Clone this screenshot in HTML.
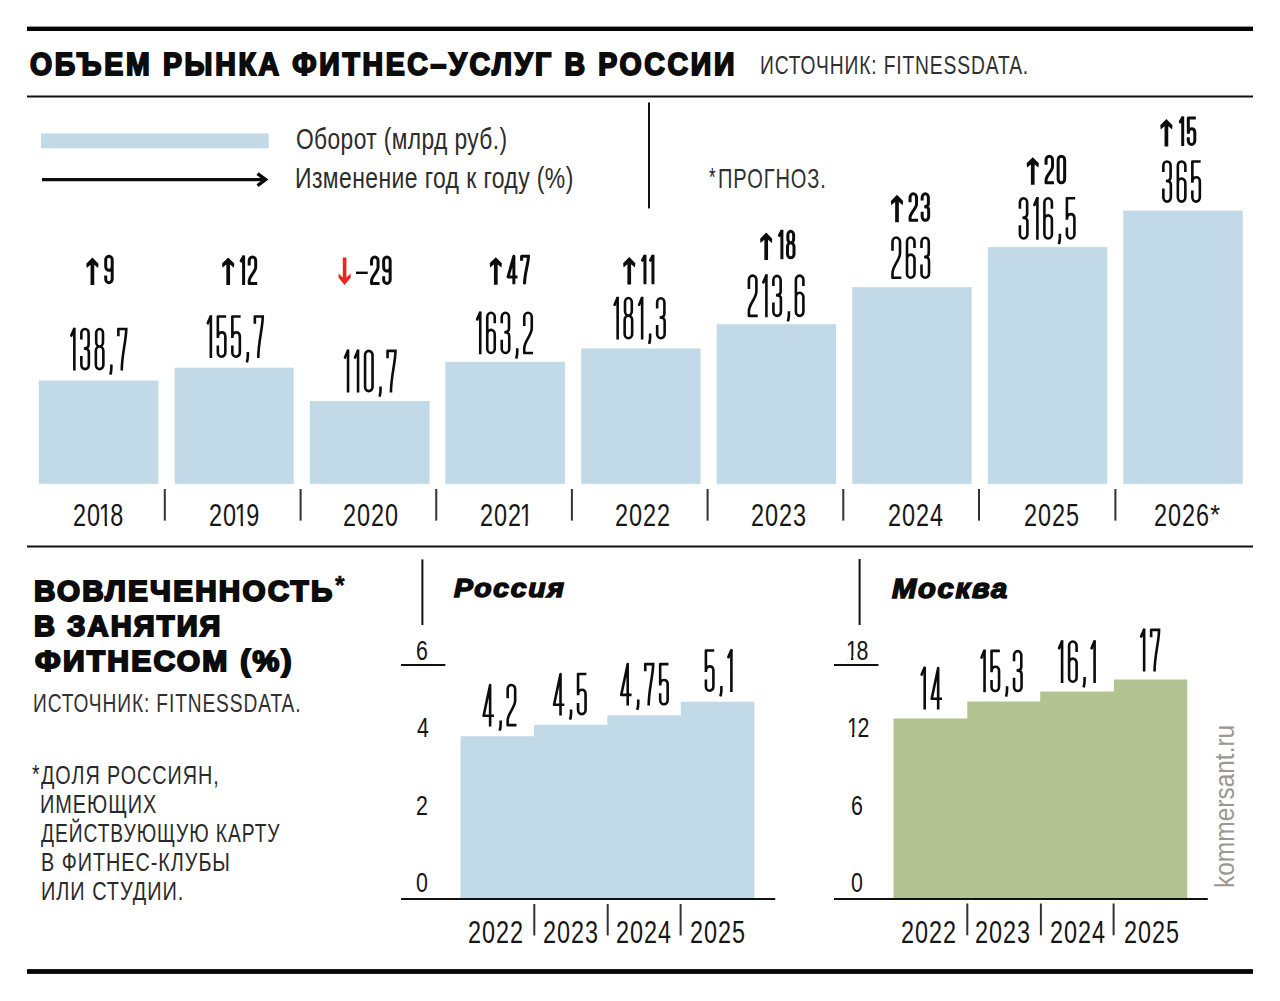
<!DOCTYPE html>
<html><head><meta charset="utf-8"><title>Объем рынка фитнес-услуг в России</title>
<style>
html,body{margin:0;padding:0;background:#fff;}
body{width:1280px;height:1001px;position:relative;overflow:hidden;}
svg{position:absolute;left:0;top:0;}
.t{position:absolute;white-space:nowrap;line-height:1;transform-origin:0 0;}
</style></head><body>
<svg width="1280" height="1001" viewBox="0 0 1280 1001">
<rect x="27" y="26.6" width="1226" height="4.4" fill="#050505"/>
<rect x="27" y="95.5" width="1226" height="2.0" fill="#111"/>
<rect x="27" y="545.5" width="1226" height="2.0" fill="#111"/>
<rect x="27" y="969.1" width="1226" height="4.8" fill="#050505"/>
<rect x="41" y="133.4" width="227.7" height="14.9" fill="#c2d9e8"/>
<line x1="42" y1="179.6" x2="265" y2="179.6" stroke="#0c0c0c" stroke-width="3.4"/>
<polyline points="257.5,173.6 265.6,179.6 257.5,185.6" fill="none" stroke="#0c0c0c" stroke-width="3.4" stroke-linejoin="miter"/>
<rect x="648" y="102.5" width="2" height="105.9" fill="#111"/>
<rect x="38.75" y="380.6" width="119.55" height="103.2" fill="#c2d9e8"/>
<rect x="174.7" y="367.7" width="119.0" height="116.1" fill="#c2d9e8"/>
<rect x="309.8" y="401" width="119.8" height="82.8" fill="#c2d9e8"/>
<rect x="445.3" y="361.8" width="119.8" height="122.0" fill="#c2d9e8"/>
<rect x="581.2" y="348.5" width="119.4" height="135.3" fill="#c2d9e8"/>
<rect x="716.6" y="324.2" width="119.4" height="159.6" fill="#c2d9e8"/>
<rect x="852.2" y="287.2" width="119.4" height="196.6" fill="#c2d9e8"/>
<rect x="987.8" y="247.1" width="119.5" height="236.7" fill="#c2d9e8"/>
<rect x="1123.3" y="210.6" width="119.5" height="273.2" fill="#c2d9e8"/>
<rect x="163.8" y="489" width="2.0" height="31.6" fill="#333"/>
<rect x="299.6" y="489" width="2.0" height="31.6" fill="#333"/>
<rect x="435.25" y="489" width="2.0" height="31.6" fill="#333"/>
<rect x="570.9" y="489" width="2.0" height="31.6" fill="#333"/>
<rect x="706.6" y="489" width="2.0" height="31.6" fill="#333"/>
<rect x="842.3" y="489" width="2.0" height="31.6" fill="#333"/>
<rect x="978.0" y="489" width="2.0" height="31.6" fill="#333"/>
<rect x="1114.4" y="489" width="2.0" height="31.6" fill="#333"/>
<polygon points="92.40,257.60 98.50,263.70 98.10,268.00 94.25,264.80 94.25,285.10 90.55,285.10 90.55,264.80 86.70,268.00 86.30,263.70" fill="#0c0c0c"/>
<polygon points="228.20,257.40 234.30,263.50 233.90,267.80 230.05,264.60 230.05,284.90 226.35,284.90 226.35,264.60 222.50,267.80 222.10,263.50" fill="#0c0c0c"/>
<polygon points="495.80,257.20 501.90,263.30 501.50,267.60 497.65,264.40 497.65,284.70 493.95,284.70 493.95,264.40 490.10,267.60 489.70,263.30" fill="#0c0c0c"/>
<polygon points="629.25,257.10 635.35,263.20 634.95,267.50 631.10,264.30 631.10,284.60 627.40,284.60 627.40,264.30 623.55,267.50 623.15,263.20" fill="#0c0c0c"/>
<polygon points="766.20,232.60 772.30,238.70 771.90,243.00 768.05,239.80 768.05,260.10 764.35,260.10 764.35,239.80 760.50,243.00 760.10,238.70" fill="#0c0c0c"/>
<polygon points="897.00,194.80 903.10,200.90 902.70,205.20 898.85,202.00 898.85,222.30 895.15,222.30 895.15,202.00 891.30,205.20 890.90,200.90" fill="#0c0c0c"/>
<polygon points="1032.75,157.20 1038.85,163.30 1038.45,167.60 1034.60,164.40 1034.60,184.70 1030.90,184.70 1030.90,164.40 1027.05,167.60 1026.65,163.30" fill="#0c0c0c"/>
<polygon points="1166.40,119.10 1172.50,125.20 1172.10,129.50 1168.25,126.30 1168.25,146.60 1164.55,146.60 1164.55,126.30 1160.70,129.50 1160.30,125.20" fill="#0c0c0c"/>
<polygon points="342.80,257.40 346.40,257.40 346.40,277.40 350.60,273.60 350.60,277.80 344.60,285.00 338.60,277.80 338.60,273.60 342.80,277.40" fill="#ee2320"/>
<rect x="356" y="271.6" width="11.7" height="2.4" fill="#0c0c0c"/>
<rect x="421.4" y="559.4" width="2.0" height="65.6" fill="#111"/>
<rect x="401" y="664" width="44.3" height="2" fill="#111"/>
<polygon points="460.50,898.50 460.50,736.20 533.90,736.20 533.90,724.80 607.30,724.80 607.30,715.30 680.80,715.30 680.80,701.70 754.30,701.70 754.30,898.50" fill="#c2d9e8"/>
<rect x="401" y="898" width="374.2" height="2" fill="#111"/>
<rect x="533.3" y="904" width="2.0" height="31.5" fill="#333"/>
<rect x="606.7" y="904" width="2.0" height="31.5" fill="#333"/>
<rect x="679.6" y="904" width="2.0" height="31.5" fill="#333"/>
<rect x="858.6" y="559" width="2.0" height="66" fill="#111"/>
<rect x="834" y="664" width="44.5" height="2" fill="#111"/>
<polygon points="893.50,898.50 893.50,718.40 967.30,718.40 967.30,701.60 1040.20,701.60 1040.20,691.40 1113.90,691.40 1113.90,679.60 1187.20,679.60 1187.20,898.50" fill="#b4c392"/>
<rect x="834" y="898" width="373.8" height="2" fill="#111"/>
<rect x="966.3" y="903.5" width="2.0" height="31.8" fill="#333"/>
<rect x="1039.9" y="903.5" width="2.0" height="31.8" fill="#333"/>
<rect x="1112.6" y="903.5" width="2.0" height="31.8" fill="#333"/>
<path d="M74.35,327.65 V370.45  M81.35,339.42 V333.26 A3.62,4.31 0 0 1 88.60,333.26 V344.75 Q88.60,348.45 83.89,348.45 M83.89,348.45 Q88.85,348.45 88.85,352.15 V364.84 A3.75,4.31 0 0 1 81.35,364.84 V355.90 M96.20,333.26 A3.40,4.31 0 0 1 103.00,333.26 V342.17 A3.40,4.31 0 0 1 96.20,342.17 Z M95.85,350.79 A3.75,4.31 0 0 1 103.35,350.79 V364.84 A3.75,4.31 0 0 1 95.85,364.84 Z M111.35,364.46 V367.88 Q111.35,371.31 110.35,374.73 M118.35,336.21 V328.95 H127.55  M126.25,328.95 C126.25,340.49 121.77,354.19 121.77,370.45" fill="none" stroke="#0c0c0c" stroke-width="2.6" stroke-linejoin="round"/><path d="M74.05,329.25 L71.35,335.57" fill="none" stroke="#0c0c0c" stroke-width="2.73" stroke-linecap="round"/>
<path d="M210.85,315.20 V358.00  M226.14,316.50 H217.85 V337.88 M217.85,337.85 Q217.85,332.34 221.60,332.34 Q225.35,332.34 225.35,336.65 V352.39 A3.75,4.31 0 0 1 217.85,352.39 V345.59 M240.64,316.50 H232.35 V337.88 M232.35,337.85 Q232.35,332.34 236.10,332.34 Q239.85,332.34 239.85,336.65 V352.39 A3.75,4.31 0 0 1 232.35,352.39 V345.59 M247.85,352.01 V355.43 Q247.85,358.86 246.85,362.28 M254.85,323.76 V316.50 H264.05  M262.75,316.50 C262.75,328.04 258.27,341.74 258.27,358.00" fill="none" stroke="#0c0c0c" stroke-width="2.6" stroke-linejoin="round"/><path d="M210.55,316.80 L207.85,323.12" fill="none" stroke="#0c0c0c" stroke-width="2.73" stroke-linecap="round"/>
<path d="M348.05,349.60 V392.40  M358.05,349.60 V392.40  M365.05,355.21 A3.75,4.31 0 0 1 372.55,355.21 V386.79 A3.75,4.31 0 0 1 365.05,386.79 Z M380.55,386.41 V389.83 Q380.55,393.26 379.55,396.68 M387.55,358.16 V350.90 H396.75  M395.45,350.90 C395.45,362.44 390.97,376.14 390.97,392.40" fill="none" stroke="#0c0c0c" stroke-width="2.6" stroke-linejoin="round"/><path d="M347.75,351.20 L345.05,357.52 M357.75,351.20 L355.05,357.52" fill="none" stroke="#0c0c0c" stroke-width="2.73" stroke-linecap="round"/>
<path d="M480.25,311.45 V354.25  M494.75,323.22 V317.06 A3.75,4.31 0 0 0 487.25,317.06 V348.64 A3.75,4.31 0 0 0 494.75,348.64 V334.18 A3.75,4.31 0 0 0 487.25,334.18 M501.75,323.22 V317.06 A3.62,4.31 0 0 1 509.00,317.06 V328.55 Q509.00,332.25 504.29,332.25 M504.29,332.25 Q509.25,332.25 509.25,335.95 V348.64 A3.75,4.31 0 0 1 501.75,348.64 V339.70 M517.25,348.26 V351.68 Q517.25,355.11 516.25,358.53 M524.25,326.00 V317.06 A3.75,4.31 0 0 1 531.75,317.06 V328.57 C531.75,334.99 524.25,341.41 524.25,348.26 V352.95 H533.05" fill="none" stroke="#0c0c0c" stroke-width="2.6" stroke-linejoin="round"/><path d="M479.95,313.05 L477.25,319.37" fill="none" stroke="#0c0c0c" stroke-width="2.73" stroke-linecap="round"/>
<path d="M617.65,296.75 V339.55  M625.00,302.36 A3.40,4.31 0 0 1 631.80,302.36 V311.27 A3.40,4.31 0 0 1 625.00,311.27 Z M624.65,319.89 A3.75,4.31 0 0 1 632.15,319.89 V333.94 A3.75,4.31 0 0 1 624.65,333.94 Z M642.15,296.75 V339.55  M650.15,333.56 V336.98 Q650.15,340.41 649.15,343.83 M657.15,308.52 V302.36 A3.63,4.31 0 0 1 664.40,302.36 V313.85 Q664.40,317.55 659.69,317.55 M659.69,317.55 Q664.65,317.55 664.65,321.25 V333.94 A3.75,4.31 0 0 1 657.15,333.94 V325.00" fill="none" stroke="#0c0c0c" stroke-width="2.6" stroke-linejoin="round"/><path d="M617.35,298.35 L614.65,304.67 M641.85,298.35 L639.15,304.67" fill="none" stroke="#0c0c0c" stroke-width="2.73" stroke-linecap="round"/>
<path d="M748.90,288.90 V279.96 A3.75,4.31 0 0 1 756.40,279.96 V291.47 C756.40,297.89 748.90,304.31 748.90,311.16 V315.85 H757.70 M766.40,274.35 V317.15  M773.40,286.12 V279.96 A3.63,4.31 0 0 1 780.65,279.96 V291.45 Q780.65,295.15 775.94,295.15 M775.94,295.15 Q780.90,295.15 780.90,298.85 V311.54 A3.75,4.31 0 0 1 773.40,311.54 V302.60 M788.90,311.16 V314.58 Q788.90,318.01 787.90,321.43 M803.40,286.12 V279.96 A3.75,4.31 0 0 0 795.90,279.96 V311.54 A3.75,4.31 0 0 0 803.40,311.54 V297.08 A3.75,4.31 0 0 0 795.90,297.08" fill="none" stroke="#0c0c0c" stroke-width="2.6" stroke-linejoin="round"/><path d="M766.10,275.95 L763.40,282.27" fill="none" stroke="#0c0c0c" stroke-width="2.73" stroke-linecap="round"/>
<path d="M892.50,250.80 V241.86 A3.75,4.31 0 0 1 900.00,241.86 V253.37 C900.00,259.79 892.50,266.21 892.50,273.06 V277.75 H901.30 M914.50,248.02 V241.86 A3.75,4.31 0 0 0 907.00,241.86 V273.44 A3.75,4.31 0 0 0 914.50,273.44 V258.98 A3.75,4.31 0 0 0 907.00,258.98 M921.50,248.02 V241.86 A3.63,4.31 0 0 1 928.75,241.86 V253.35 Q928.75,257.05 924.04,257.05 M924.04,257.05 Q929.00,257.05 929.00,260.75 V273.44 A3.75,4.31 0 0 1 921.50,273.44 V264.50" fill="none" stroke="#0c0c0c" stroke-width="2.6" stroke-linejoin="round"/>
<path d="M1019.90,208.77 V202.61 A3.62,4.31 0 0 1 1027.15,202.61 V214.10 Q1027.15,217.80 1022.44,217.80 M1022.44,217.80 Q1027.40,217.80 1027.40,221.50 V234.19 A3.75,4.31 0 0 1 1019.90,234.19 V225.25 M1037.40,197.00 V239.80  M1051.90,208.77 V202.61 A3.75,4.31 0 0 0 1044.40,202.61 V234.19 A3.75,4.31 0 0 0 1051.90,234.19 V219.73 A3.75,4.31 0 0 0 1044.40,219.73 M1059.90,233.81 V237.23 Q1059.90,240.66 1058.90,244.08 M1075.20,198.30 H1066.90 V219.68 M1066.90,219.65 Q1066.90,214.14 1070.65,214.14 Q1074.40,214.14 1074.40,218.45 V234.19 A3.75,4.31 0 0 1 1066.90,234.19 V227.39" fill="none" stroke="#0c0c0c" stroke-width="2.6" stroke-linejoin="round"/><path d="M1037.10,198.60 L1034.40,204.92" fill="none" stroke="#0c0c0c" stroke-width="2.73" stroke-linecap="round"/>
<path d="M1163.35,171.92 V165.76 A3.62,4.31 0 0 1 1170.60,165.76 V177.25 Q1170.60,180.95 1165.89,180.95 M1165.89,180.95 Q1170.85,180.95 1170.85,184.65 V197.34 A3.75,4.31 0 0 1 1163.35,197.34 V188.40 M1185.35,171.92 V165.76 A3.75,4.31 0 0 0 1177.85,165.76 V197.34 A3.75,4.31 0 0 0 1185.35,197.34 V182.88 A3.75,4.31 0 0 0 1177.85,182.88 M1200.64,161.45 H1192.35 V182.83 M1192.35,182.80 Q1192.35,177.29 1196.10,177.29 Q1199.85,177.29 1199.85,181.60 V197.34 A3.75,4.31 0 0 1 1192.35,197.34 V190.54" fill="none" stroke="#0c0c0c" stroke-width="2.6" stroke-linejoin="round"/>
<path d="M490.12,726.45 V684.95 L483.64,715.75 H493.96 M500.66,720.46 V723.88 Q500.66,727.31 499.66,730.73 M507.66,698.20 V689.26 A3.75,4.31 0 0 1 515.16,689.26 V700.77 C515.16,707.19 507.66,713.61 507.66,720.46 V725.15 H516.46" fill="none" stroke="#0c0c0c" stroke-width="2.6" stroke-linejoin="round"/>
<path d="M560.52,715.45 V673.95 L554.04,704.75 H564.36 M571.06,709.46 V712.88 Q571.06,716.31 570.06,719.73 M586.35,673.95 H578.06 V695.33 M578.06,695.30 Q578.06,689.79 581.81,689.79 Q585.56,689.79 585.56,694.10 V709.84 A3.75,4.31 0 0 1 578.06,709.84 V703.04" fill="none" stroke="#0c0c0c" stroke-width="2.6" stroke-linejoin="round"/>
<path d="M627.72,705.60 V664.10 L621.24,694.90 H631.56 M638.26,699.61 V703.03 Q638.26,706.46 637.26,709.88 M645.26,671.36 V664.10 H654.46  M653.16,664.10 C653.16,675.64 648.68,689.34 648.68,705.60 M668.45,664.10 H660.16 V685.48 M660.16,685.45 Q660.16,679.94 663.91,679.94 Q667.66,679.94 667.66,684.25 V699.99 A3.75,4.31 0 0 1 660.16,699.99 V693.19" fill="none" stroke="#0c0c0c" stroke-width="2.6" stroke-linejoin="round"/>
<path d="M714.20,650.50 H705.90 V671.88 M705.90,671.85 Q705.90,666.34 709.65,666.34 Q713.40,666.34 713.40,670.65 V686.39 A3.75,4.31 0 0 1 705.90,686.39 V679.59 M721.40,686.01 V689.43 Q721.40,692.86 720.40,696.28 M731.40,649.20 V692.00 " fill="none" stroke="#0c0c0c" stroke-width="2.6" stroke-linejoin="round"/><path d="M731.10,650.80 L728.40,657.12" fill="none" stroke="#0c0c0c" stroke-width="2.73" stroke-linecap="round"/>
<path d="M924.69,666.65 V709.45  M938.17,709.45 V667.95 L931.69,698.75 H942.01" fill="none" stroke="#0c0c0c" stroke-width="2.6" stroke-linejoin="round"/><path d="M924.39,668.25 L921.69,674.57" fill="none" stroke="#0c0c0c" stroke-width="2.73" stroke-linecap="round"/>
<path d="M984.55,649.55 V692.35  M999.85,650.85 H991.55 V672.23 M991.55,672.20 Q991.55,666.69 995.30,666.69 Q999.05,666.69 999.05,671.00 V686.74 A3.75,4.31 0 0 1 991.55,686.74 V679.94 M1007.05,686.36 V689.78 Q1007.05,693.21 1006.05,696.63 M1014.05,661.32 V655.16 A3.63,4.31 0 0 1 1021.30,655.16 V666.65 Q1021.30,670.35 1016.59,670.35 M1016.59,670.35 Q1021.55,670.35 1021.55,674.05 V686.74 A3.75,4.31 0 0 1 1014.05,686.74 V677.80" fill="none" stroke="#0c0c0c" stroke-width="2.6" stroke-linejoin="round"/><path d="M984.25,651.15 L981.55,657.47" fill="none" stroke="#0c0c0c" stroke-width="2.73" stroke-linecap="round"/>
<path d="M1062.10,640.25 V683.05  M1076.60,652.02 V645.86 A3.75,4.31 0 0 0 1069.10,645.86 V677.44 A3.75,4.31 0 0 0 1076.60,677.44 V662.98 A3.75,4.31 0 0 0 1069.10,662.98 M1084.60,677.06 V680.48 Q1084.60,683.91 1083.60,687.33 M1094.60,640.25 V683.05 " fill="none" stroke="#0c0c0c" stroke-width="2.6" stroke-linejoin="round"/><path d="M1061.80,641.85 L1059.10,648.17 M1094.30,641.85 L1091.60,648.17" fill="none" stroke="#0c0c0c" stroke-width="2.73" stroke-linecap="round"/>
<path d="M1144.15,628.60 V671.40  M1151.15,637.16 V629.90 H1160.35  M1159.05,629.90 C1159.05,641.44 1154.57,655.14 1154.57,671.40" fill="none" stroke="#0c0c0c" stroke-width="2.6" stroke-linejoin="round"/><path d="M1143.85,630.20 L1141.15,636.52" fill="none" stroke="#0c0c0c" stroke-width="2.73" stroke-linecap="round"/>
<path d="M105.70,275.59 V278.91 A3.25,3.74 0 0 0 112.20,278.91 V259.89 A3.25,3.74 0 0 0 105.70,259.89 V266.52 A3.25,3.74 0 0 0 112.20,266.52" fill="none" stroke="#0c0c0c" stroke-width="3.0" stroke-linejoin="round"/>
<path d="M243.60,255.40 V284.90  M249.20,265.43 V260.64 A3.25,3.74 0 0 1 255.70,260.64 V267.20 C255.70,271.62 249.20,276.05 249.20,280.77 V283.40 H257.20" fill="none" stroke="#0c0c0c" stroke-width="3.0" stroke-linejoin="round"/><path d="M243.30,257.20 L241.20,260.86" fill="none" stroke="#0c0c0c" stroke-width="3.15" stroke-linecap="round"/>
<path d="M371.55,265.43 V260.64 A3.25,3.74 0 0 1 378.05,260.64 V267.20 C378.05,271.62 371.55,276.05 371.55,280.77 V283.40 H379.55 M383.65,276.34 V279.66 A3.25,3.74 0 0 0 390.15,279.66 V260.64 A3.25,3.74 0 0 0 383.65,260.64 V267.27 A3.25,3.74 0 0 0 390.15,267.27" fill="none" stroke="#0c0c0c" stroke-width="3.0" stroke-linejoin="round"/>
<path d="M513.87,284.25 V256.25 L508.05,276.88 H517.47 M521.57,260.65 V256.25 H529.95  M528.45,256.25 C528.45,263.60 524.52,273.04 524.52,284.25" fill="none" stroke="#0c0c0c" stroke-width="3.0" stroke-linejoin="round"/>
<path d="M644.95,254.70 V284.20  M652.95,254.70 V284.20 " fill="none" stroke="#0c0c0c" stroke-width="3.0" stroke-linejoin="round"/><path d="M644.65,256.50 L642.55,260.16 M652.65,256.50 L650.55,260.16" fill="none" stroke="#0c0c0c" stroke-width="3.15" stroke-linecap="round"/>
<path d="M781.90,229.85 V259.35  M787.85,235.09 A2.90,3.74 0 0 1 793.65,235.09 V239.09 A2.90,3.74 0 0 1 787.85,239.09 Z M787.50,246.57 A3.25,3.74 0 0 1 794.00,246.57 V254.11 A3.25,3.74 0 0 1 787.50,254.11 Z" fill="none" stroke="#0c0c0c" stroke-width="3.0" stroke-linejoin="round"/><path d="M781.60,231.65 L779.50,235.31" fill="none" stroke="#0c0c0c" stroke-width="3.15" stroke-linecap="round"/>
<path d="M910.05,202.33 V197.54 A3.25,3.74 0 0 1 916.55,197.54 V204.10 C916.55,208.53 910.05,212.95 910.05,217.67 V220.30 H918.05 M922.15,200.41 V197.54 A3.12,3.74 0 0 1 928.40,197.54 V203.78 Q928.40,206.64 924.26,206.64 M924.26,206.64 Q928.65,206.64 928.65,209.50 V216.56 A3.25,3.74 0 0 1 922.15,216.56 V211.77" fill="none" stroke="#0c0c0c" stroke-width="3.0" stroke-linejoin="round"/>
<path d="M1046.05,164.78 V159.99 A3.25,3.74 0 0 1 1052.55,159.99 V166.55 C1052.55,170.97 1046.05,175.40 1046.05,180.12 V182.75 H1054.05 M1058.15,159.99 A3.25,3.74 0 0 1 1064.65,159.99 V179.01 A3.25,3.74 0 0 1 1058.15,179.01 Z" fill="none" stroke="#0c0c0c" stroke-width="3.0" stroke-linejoin="round"/>
<path d="M1182.70,116.40 V145.90  M1195.83,117.90 H1188.30 V132.03 M1188.30,133.75 Q1188.30,128.81 1191.55,128.81 Q1194.80,128.81 1194.80,132.55 V140.66 A3.25,3.74 0 0 1 1188.30,140.66 V137.34" fill="none" stroke="#0c0c0c" stroke-width="3.0" stroke-linejoin="round"/><path d="M1182.40,118.20 L1180.30,121.86" fill="none" stroke="#0c0c0c" stroke-width="3.15" stroke-linecap="round"/>
</svg>
<div class="t" style="left:30.0px;top:48.5px;font-size:31.897px;transform:scaleX(0.893);font-family:'Liberation Sans', sans-serif;font-weight:700;font-style:normal;color:#0c0c0c;letter-spacing:3.0px;-webkit-text-stroke:2.0px #0c0c0c;">ОБЪЕМ РЫНКА ФИТНЕС–УСЛУГ В РОССИИ</div>
<div class="t" style="left:760.0px;top:51.8px;font-size:26.6px;transform:scaleX(0.7234);font-family:'Liberation Sans', sans-serif;font-weight:400;font-style:normal;color:#303030;letter-spacing:1.2px;">ИСТОЧНИК: FITNESSDATA.</div>
<div class="t" style="left:296.0px;top:125.1px;font-size:28.772px;transform:scaleX(0.7917);font-family:'Liberation Sans', sans-serif;font-weight:400;font-style:normal;color:#2c2c2c;letter-spacing:0.5px;">Оборот (млрд руб.)</div>
<div class="t" style="left:295.0px;top:163.65px;font-size:28.772px;transform:scaleX(0.7982);font-family:'Liberation Sans', sans-serif;font-weight:400;font-style:normal;color:#2c2c2c;letter-spacing:0.5px;">Изменение год к году (%)</div>
<div class="t" style="left:718.0px;top:165.8px;font-size:26.876px;transform:scaleX(0.747);font-family:'Liberation Sans', sans-serif;font-weight:400;font-style:normal;color:#303030;letter-spacing:1.2px;">ПРОГНОЗ.</div>
<div class="t" style="left:709.0px;top:165.4px;font-size:25.23px;transform:scaleX(0.666);font-family:'Liberation Sans', sans-serif;font-weight:400;font-style:normal;color:#161616;">*</div>
<div class="t" style="left:72.75px;top:500.4px;font-size:31.0px;transform:scaleX(0.756);font-family:'Liberation Sans', sans-serif;font-weight:400;font-style:normal;color:#161616;letter-spacing:1.24px;">20<span style="position:relative;margin:0 -0.107em 0 -0.098em">1<i style="position:absolute;left:0.055em;width:0.195em;top:0.80em;height:0.14em;background:#fff"></i><i style="position:absolute;left:0.342em;width:0.193em;top:0.80em;height:0.14em;background:#fff"></i></span>8</div>
<div class="t" style="left:209.05px;top:500.4px;font-size:31.0px;transform:scaleX(0.756);font-family:'Liberation Sans', sans-serif;font-weight:400;font-style:normal;color:#161616;letter-spacing:1.24px;">20<span style="position:relative;margin:0 -0.107em 0 -0.098em">1<i style="position:absolute;left:0.055em;width:0.195em;top:0.80em;height:0.14em;background:#fff"></i><i style="position:absolute;left:0.342em;width:0.193em;top:0.80em;height:0.14em;background:#fff"></i></span>9</div>
<div class="t" style="left:342.82px;top:500.4px;font-size:31.0px;transform:scaleX(0.756);font-family:'Liberation Sans', sans-serif;font-weight:400;font-style:normal;color:#161616;letter-spacing:1.24px;">2020</div>
<div class="t" style="left:480.1px;top:500.4px;font-size:31.0px;transform:scaleX(0.756);font-family:'Liberation Sans', sans-serif;font-weight:400;font-style:normal;color:#161616;letter-spacing:1.24px;">202<span style="position:relative;margin:0 -0.107em 0 -0.098em">1<i style="position:absolute;left:0.055em;width:0.195em;top:0.80em;height:0.14em;background:#fff"></i><i style="position:absolute;left:0.342em;width:0.193em;top:0.80em;height:0.14em;background:#fff"></i></span></div>
<div class="t" style="left:615.15px;top:500.4px;font-size:31.0px;transform:scaleX(0.756);font-family:'Liberation Sans', sans-serif;font-weight:400;font-style:normal;color:#161616;letter-spacing:1.24px;">2022</div>
<div class="t" style="left:751.05px;top:500.4px;font-size:31.0px;transform:scaleX(0.756);font-family:'Liberation Sans', sans-serif;font-weight:400;font-style:normal;color:#161616;letter-spacing:1.24px;">2023</div>
<div class="t" style="left:887.5px;top:500.4px;font-size:31.0px;transform:scaleX(0.756);font-family:'Liberation Sans', sans-serif;font-weight:400;font-style:normal;color:#161616;letter-spacing:1.24px;">2024</div>
<div class="t" style="left:1023.6px;top:500.4px;font-size:31.0px;transform:scaleX(0.756);font-family:'Liberation Sans', sans-serif;font-weight:400;font-style:normal;color:#161616;letter-spacing:1.24px;">2025</div>
<div class="t" style="left:1153.6px;top:500.4px;font-size:31.0px;transform:scaleX(0.756);font-family:'Liberation Sans', sans-serif;font-weight:400;font-style:normal;color:#161616;letter-spacing:1.24px;">2026</div>
<div class="t" style="left:1210.0px;top:501.6px;font-size:26.986px;transform:scaleX(0.9624);font-family:'Liberation Sans', sans-serif;font-weight:400;font-style:normal;color:#161616;">*</div>
<div class="t" style="left:468.2px;top:917.4px;font-size:31.0px;transform:scaleX(0.756);font-family:'Liberation Sans', sans-serif;font-weight:400;font-style:normal;color:#161616;letter-spacing:1.24px;">2022</div>
<div class="t" style="left:542.9px;top:917.4px;font-size:31.0px;transform:scaleX(0.756);font-family:'Liberation Sans', sans-serif;font-weight:400;font-style:normal;color:#161616;letter-spacing:1.24px;">2023</div>
<div class="t" style="left:616.05px;top:917.4px;font-size:31.0px;transform:scaleX(0.756);font-family:'Liberation Sans', sans-serif;font-weight:400;font-style:normal;color:#161616;letter-spacing:1.24px;">2024</div>
<div class="t" style="left:690.2px;top:917.4px;font-size:31.0px;transform:scaleX(0.756);font-family:'Liberation Sans', sans-serif;font-weight:400;font-style:normal;color:#161616;letter-spacing:1.24px;">2025</div>
<div class="t" style="left:900.9px;top:917.4px;font-size:31.0px;transform:scaleX(0.756);font-family:'Liberation Sans', sans-serif;font-weight:400;font-style:normal;color:#161616;letter-spacing:1.24px;">2022</div>
<div class="t" style="left:975.15px;top:917.4px;font-size:31.0px;transform:scaleX(0.756);font-family:'Liberation Sans', sans-serif;font-weight:400;font-style:normal;color:#161616;letter-spacing:1.24px;">2023</div>
<div class="t" style="left:1049.65px;top:917.4px;font-size:31.0px;transform:scaleX(0.756);font-family:'Liberation Sans', sans-serif;font-weight:400;font-style:normal;color:#161616;letter-spacing:1.24px;">2024</div>
<div class="t" style="left:1124.1px;top:917.4px;font-size:31.0px;transform:scaleX(0.756);font-family:'Liberation Sans', sans-serif;font-weight:400;font-style:normal;color:#161616;letter-spacing:1.24px;">2025</div>
<div class="t" style="left:33.6px;top:576.0px;font-size:29.41px;transform:scaleX(1.0083);font-family:'Liberation Sans', sans-serif;font-weight:700;font-style:normal;color:#0c0c0c;letter-spacing:2.2px;-webkit-text-stroke:2.0px #0c0c0c;">ВОВЛЕЧЕННОСТЬ</div>
<div class="t" style="left:33.6px;top:611.2px;font-size:29.41px;transform:scaleX(0.985);font-family:'Liberation Sans', sans-serif;font-weight:700;font-style:normal;color:#0c0c0c;letter-spacing:2.2px;-webkit-text-stroke:2.0px #0c0c0c;">В ЗАНЯТИЯ</div>
<div class="t" style="left:34.6px;top:645.7px;font-size:29.41px;transform:scaleX(1.0215);font-family:'Liberation Sans', sans-serif;font-weight:700;font-style:normal;color:#0c0c0c;letter-spacing:2.2px;-webkit-text-stroke:2.0px #0c0c0c;">ФИТНЕСОМ (%)</div>
<div class="t" style="left:335.2px;top:572.1px;font-size:26.31px;transform:scaleX(0.9353);font-family:'Liberation Sans', sans-serif;font-weight:700;font-style:normal;color:#0c0c0c;-webkit-text-stroke:0.5px #0c0c0c;">*</div>
<div class="t" style="left:33.4px;top:689.6px;font-size:26.026px;transform:scaleX(0.7366);font-family:'Liberation Sans', sans-serif;font-weight:400;font-style:normal;color:#303030;letter-spacing:1.2px;">ИСТОЧНИК: FITNESSDATA.</div>
<div class="t" style="left:41.2px;top:762.8px;font-size:24.862px;transform:scaleX(0.7952);font-family:'Liberation Sans', sans-serif;font-weight:400;font-style:normal;color:#2a2a2a;letter-spacing:1.2px;">ДОЛЯ РОССИЯН,</div>
<div class="t" style="left:32.0px;top:761.8px;font-size:25.26px;transform:scaleX(0.766);font-family:'Liberation Sans', sans-serif;font-weight:400;font-style:normal;color:#161616;">*</div>
<div class="t" style="left:39.8px;top:792.05px;font-size:24.862px;transform:scaleX(0.8015);font-family:'Liberation Sans', sans-serif;font-weight:400;font-style:normal;color:#2a2a2a;letter-spacing:1.2px;">ИМЕЮЩИХ</div>
<div class="t" style="left:40.9px;top:820.8px;font-size:24.862px;transform:scaleX(0.7743);font-family:'Liberation Sans', sans-serif;font-weight:400;font-style:normal;color:#2a2a2a;letter-spacing:1.2px;">ДЕЙСТВУЮЩУЮ КАРТУ</div>
<div class="t" style="left:40.9px;top:849.95px;font-size:24.862px;transform:scaleX(0.7981);font-family:'Liberation Sans', sans-serif;font-weight:400;font-style:normal;color:#2a2a2a;letter-spacing:1.2px;">В ФИТНЕС-КЛУБЫ</div>
<div class="t" style="left:40.9px;top:879.05px;font-size:24.862px;transform:scaleX(0.8022);font-family:'Liberation Sans', sans-serif;font-weight:400;font-style:normal;color:#2a2a2a;letter-spacing:1.2px;">ИЛИ СТУДИИ.</div>
<div class="t" style="left:454.0px;top:575.0px;font-size:26.516px;transform:scaleX(1.0687);font-family:'Liberation Sans', sans-serif;font-weight:700;font-style:italic;color:#0c0c0c;letter-spacing:1.6px;-webkit-text-stroke:1.5px #0c0c0c;">Россия</div>
<div class="t" style="left:892.0px;top:575.0px;font-size:27.335px;transform:scaleX(1.0678);font-family:'Liberation Sans', sans-serif;font-weight:700;font-style:italic;color:#0c0c0c;letter-spacing:1.6px;-webkit-text-stroke:1.5px #0c0c0c;">Москва</div>
<div class="t" style="left:415.5px;top:635.5px;font-size:28.3px;transform:scaleX(0.756);font-family:'Liberation Sans', sans-serif;font-weight:400;font-style:normal;color:#161616;letter-spacing:1.24px;">6</div>
<div class="t" style="left:416.5px;top:712.8px;font-size:28.3px;transform:scaleX(0.756);font-family:'Liberation Sans', sans-serif;font-weight:400;font-style:normal;color:#161616;letter-spacing:1.24px;">4</div>
<div class="t" style="left:415.75px;top:790.5px;font-size:28.3px;transform:scaleX(0.756);font-family:'Liberation Sans', sans-serif;font-weight:400;font-style:normal;color:#161616;letter-spacing:1.24px;">2</div>
<div class="t" style="left:415.5px;top:868.1px;font-size:28.3px;transform:scaleX(0.756);font-family:'Liberation Sans', sans-serif;font-weight:400;font-style:normal;color:#161616;letter-spacing:1.24px;">0</div>
<div class="t" style="left:848.3px;top:635.5px;font-size:28.3px;transform:scaleX(0.756);font-family:'Liberation Sans', sans-serif;font-weight:400;font-style:normal;color:#161616;letter-spacing:1.24px;"><span style="position:relative;margin:0 -0.107em 0 -0.098em">1<i style="position:absolute;left:0.055em;width:0.195em;top:0.80em;height:0.14em;background:#fff"></i><i style="position:absolute;left:0.342em;width:0.193em;top:0.80em;height:0.14em;background:#fff"></i></span>8</div>
<div class="t" style="left:848.5px;top:712.8px;font-size:28.3px;transform:scaleX(0.756);font-family:'Liberation Sans', sans-serif;font-weight:400;font-style:normal;color:#161616;letter-spacing:1.24px;"><span style="position:relative;margin:0 -0.107em 0 -0.098em">1<i style="position:absolute;left:0.055em;width:0.195em;top:0.80em;height:0.14em;background:#fff"></i><i style="position:absolute;left:0.342em;width:0.193em;top:0.80em;height:0.14em;background:#fff"></i></span>2</div>
<div class="t" style="left:850.8px;top:790.5px;font-size:28.3px;transform:scaleX(0.756);font-family:'Liberation Sans', sans-serif;font-weight:400;font-style:normal;color:#161616;letter-spacing:1.24px;">6</div>
<div class="t" style="left:850.8px;top:868.15px;font-size:28.3px;transform:scaleX(0.756);font-family:'Liberation Sans', sans-serif;font-weight:400;font-style:normal;color:#161616;letter-spacing:1.24px;">0</div>
<div class="t" style="left:1212.40px;top:887.60px;font-size:26.889px;transform:rotate(-90deg) scaleX(0.9107);font-family:'Liberation Sans', sans-serif;font-weight:400;font-style:normal;color:#9b9793;">kommersant.ru</div>
</body></html>
